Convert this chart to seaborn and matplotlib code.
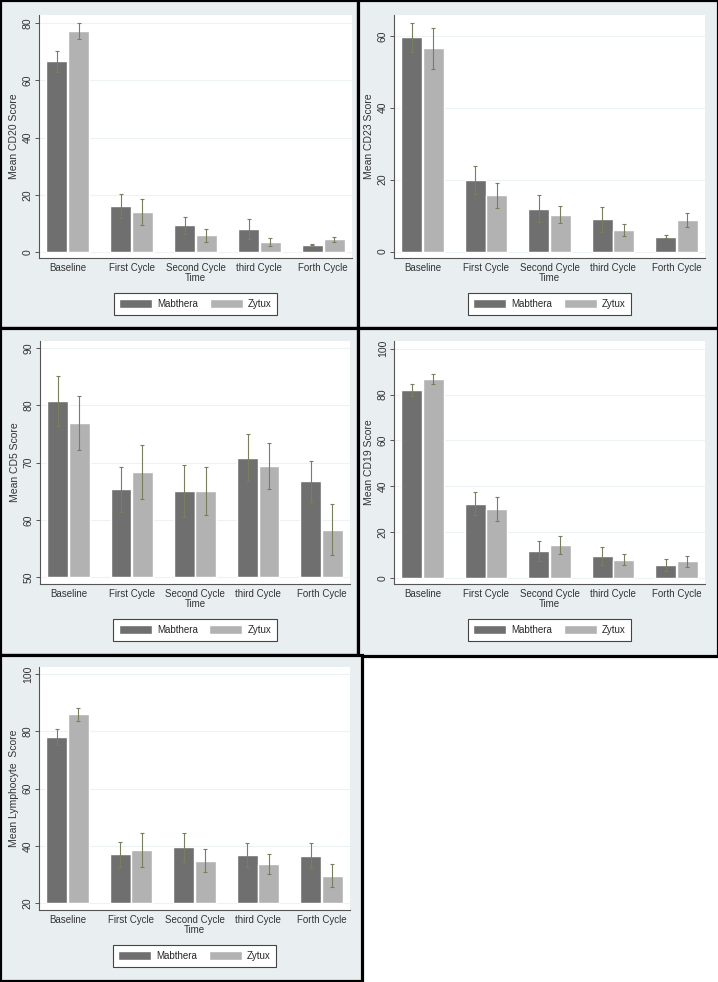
import pandas as pd
import matplotlib
matplotlib.use("Agg")
import matplotlib.pyplot as plt
from matplotlib.patches import Rectangle
import seaborn as sns

# Datos (media e intervalo +/-)
cycles = ["Baseline", "First Cycle", "Second Cycle", "third Cycle", "Forth Cycle"]
drugs = ["Mabthera", "Zytux"]

cd20_mab = [66.6, 16.1, 9.3, 8.0, 2.6]
cd20_mab_err = [3.7, 4.3, 3.0, 3.4, 0.3]
cd20_zyt = [77.3, 13.9, 5.8, 3.6, 4.4]
cd20_zyt_err = [2.8, 4.6, 2.4, 1.4, 1.0]

cd23_mab = [59.6, 19.9, 11.9, 9.0, 4.1]
cd23_mab_err = [4.1, 4.0, 3.8, 3.5, 0.4]
cd23_zyt = [56.5, 15.6, 10.3, 6.0, 8.7]
cd23_zyt_err = [5.6, 3.6, 2.5, 1.6, 2.0]

cd5_mab = [80.7, 65.3, 65.0, 70.8, 66.7]
cd5_mab_err = [4.4, 3.9, 4.5, 4.1, 3.6]
cd5_zyt = [76.9, 68.3, 65.0, 69.4, 58.3]
cd5_zyt_err = [4.7, 4.7, 4.2, 4.0, 4.5]

cd19_mab = [82.1, 32.4, 11.9, 9.6, 5.5]
cd19_mab_err = [2.5, 5.1, 4.3, 4.1, 2.6]
cd19_zyt = [86.8, 30.1, 14.5, 8.0, 7.3]
cd19_zyt_err = [2.2, 5.1, 3.9, 2.5, 2.4]

lym_mab = [77.9, 37.1, 39.5, 36.9, 36.6]
lym_mab_err = [2.8, 4.3, 5.2, 4.3, 4.3]
lym_zyt = [85.9, 38.6, 34.8, 33.7, 29.7]
lym_zyt_err = [2.3, 6.0, 4.0, 3.5, 4.1]

# Configuración de cada panel: etiqueta, datos, eje y, caja (pixeles)
panels = [
    ("Mean CD20 Score", cd20_mab, cd20_mab_err, cd20_zyt, cd20_zyt_err,
     (-2.1, 82.8), [0, 20, 40, 60, 80], 0, (0, 0, 358, 328), (39, 15, 352, 258)),
    ("Mean CD23 Score", cd23_mab, cd23_mab_err, cd23_zyt, cd23_zyt_err,
     (-1.8, 65.8), [0, 20, 40, 60], 0, (358, 0, 360, 328), (394, 15, 705, 258)),
    ("Mean CD5 Score", cd5_mab, cd5_mab_err, cd5_zyt, cd5_zyt_err,
     (48.8, 91.2), [50, 60, 70, 80, 90], 50, (0, 328, 358, 327), (40, 341, 350, 584)),
    ("Mean CD19 Score", cd19_mab, cd19_mab_err, cd19_zyt, cd19_zyt_err,
     (-2.6, 103.4), [0, 20, 40, 60, 80, 100], 0, (358, 328, 360, 328), (394, 341, 705, 584)),
    ("Mean Lymphocyte  Score", lym_mab, lym_mab_err, lym_zyt, lym_zyt_err,
     (17.7, 102.4), [20, 40, 60, 80, 100], 20, (0, 655, 362, 326), (39, 667, 350, 910)),
]

W, H = 718, 982
colores = ["#6f6f6f", "#b2b2b2"]
fondo = "#e9eff1"
color_err = "#76805e"

sns.set_style("white")
plt.rcParams['font.family'] = ['Liberation Sans', 'DejaVu Sans']

fig = plt.figure(figsize=(W / 100, H / 100), dpi=100, facecolor="white")

for (ylabel, mab, mab_err, zyt, zyt_err, ylim, yticks, base, caja, area) in panels:
    # Fondo y marco negro del panel (detrás de los ejes)
    x, y, w, h = caja
    fig.patches.append(Rectangle((x / W, 1 - (y + h) / H), w / W, h / H,
                                 transform=fig.transFigure, facecolor=fondo,
                                 edgecolor="black", linewidth=2.3, zorder=-10))

    l, t, r, b = area
    ax = fig.add_axes([l / W, 1 - b / H, (r - l) / W, (b - t) / H])
    ax.set_zorder(5)
    ax.set_facecolor("white")

    df = pd.DataFrame({
        "Time": cycles * 2,
        "Drug": [drugs[0]] * 5 + [drugs[1]] * 5,
        "Score": mab + zyt,
    })
    sns.barplot(data=df, x="Time", y="Score", hue="Drug", order=cycles,
                hue_order=drugs, palette=colores, width=0.68, gap=0.03,
                errorbar=None, saturation=1, ax=ax, zorder=2)

    # Barras desde la base del eje, con sus intervalos
    for cont, medias, errs in zip(ax.containers, [mab, zyt], [mab_err, zyt_err]):
        xs = []
        for barra in cont:
            hgt = barra.get_height()
            barra.set_y(base)
            barra.set_height(hgt - base)
            xs.append(barra.get_x() + barra.get_width() / 2)
        ax.errorbar(xs, medias, yerr=errs, fmt="none", ecolor=color_err,
                    elinewidth=0.8, capsize=1.6, capthick=0.8, zorder=3)

    ax.set_xlim(-0.45, 4.45)
    ax.set_ylim(*ylim)
    ax.set_yticks(yticks)
    ax.set_yticklabels([str(v) for v in yticks], rotation=90, va="center")
    ax.yaxis.grid(True, color="#edf2f4", linewidth=0.8)
    ax.set_axisbelow(True)
    for s in ["top", "right"]:
        ax.spines[s].set_visible(False)
    for s in ["left", "bottom"]:
        ax.spines[s].set_color("#555555")
        ax.spines[s].set_linewidth(0.8)
    ax.tick_params(axis="y", length=3, width=0.7, color="#555555", pad=1.5,
                   labelsize=7.5, labelcolor="#333333", left=True)
    ax.tick_params(axis="x", length=0, pad=3.5, labelsize=7, labelcolor="#333333")
    ax.set_ylabel(ylabel, fontsize=7.5, color="#333333", labelpad=3)
    ax.set_xlabel("Time", fontsize=7, color="#333333", labelpad=0)

    sns.move_legend(ax, "upper center", bbox_to_anchor=(0.5, -0.125), ncol=2,
                    title=None, frameon=True, fancybox=False, fontsize=7,
                    edgecolor="#444444", framealpha=1, handlelength=3.4,
                    handleheight=1.1, columnspacing=1.2, handletextpad=0.5,
                    borderpad=0.6)
    ax.get_legend().get_frame().set_linewidth(0.8)

fig.savefig("out.png", dpi=100, facecolor="white")
